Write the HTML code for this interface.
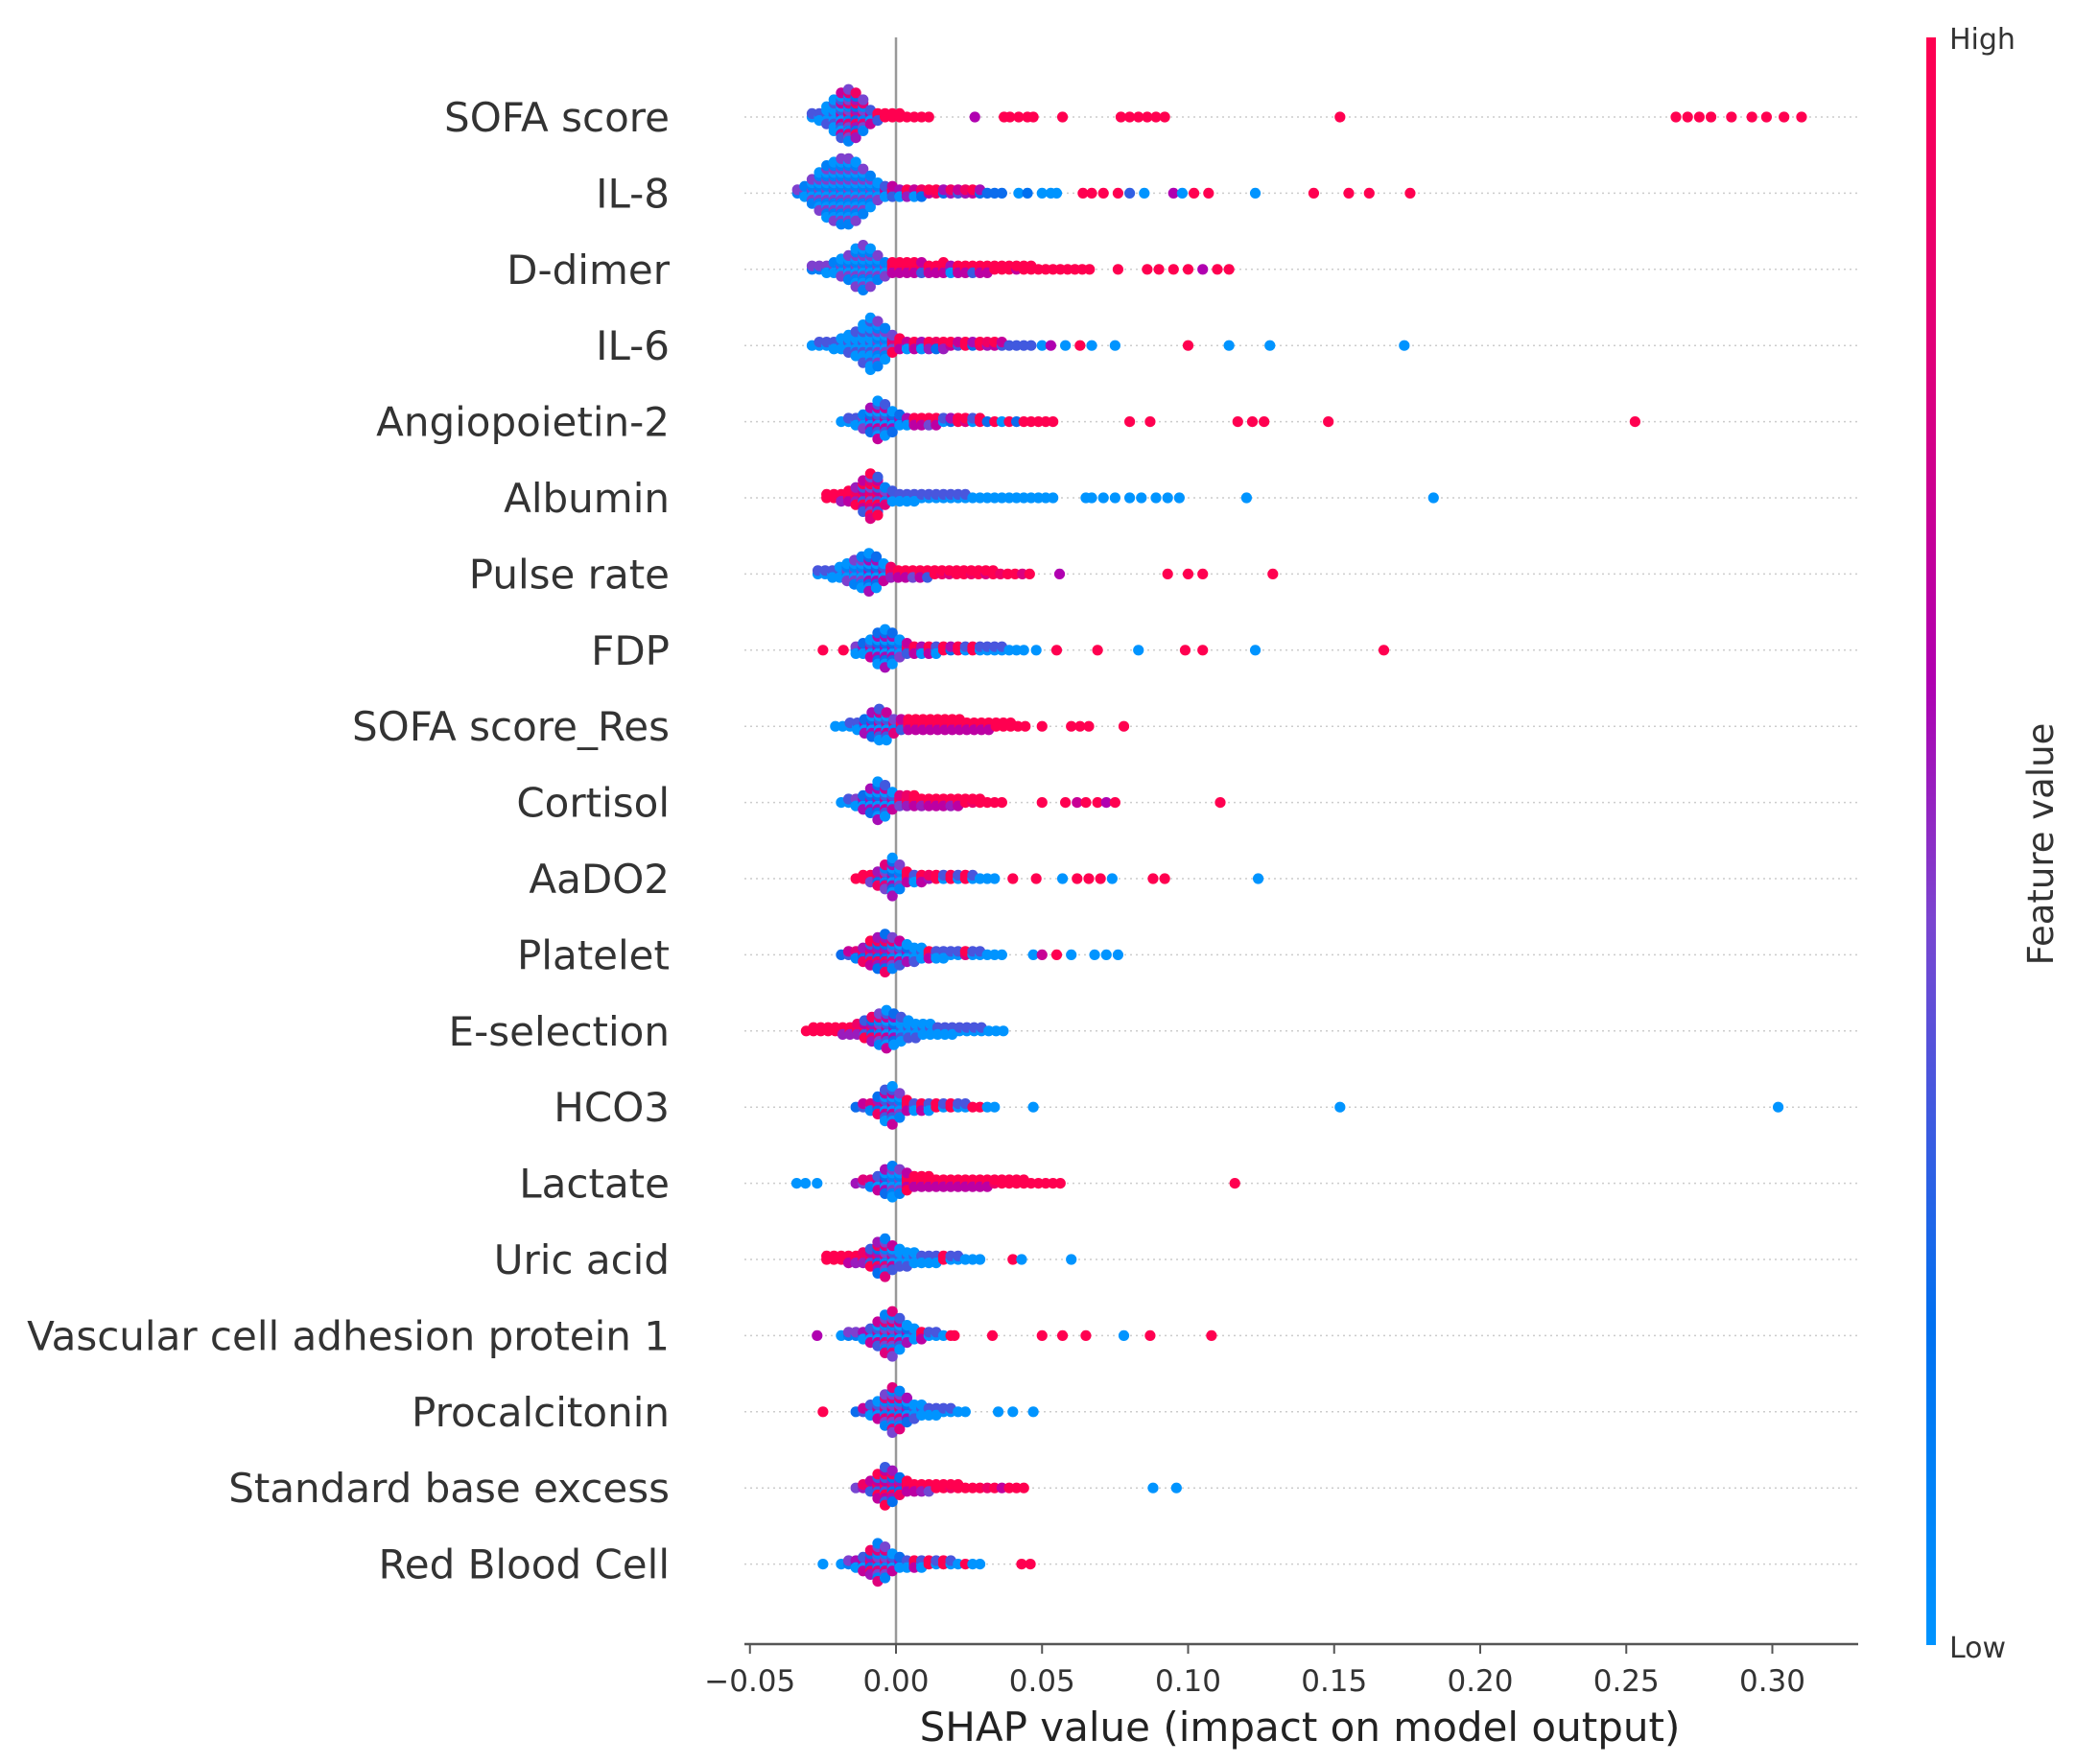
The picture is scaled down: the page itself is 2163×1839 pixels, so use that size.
<!DOCTYPE html>
<html><head><meta charset="utf-8"><style>
html,body{margin:0;padding:0;background:#fff;}
svg{display:block;font-family:"DejaVu Sans","Liberation Sans",sans-serif;}
</style></head><body>
<svg id="chart" width="2163" height="1839" viewBox="0 0 2163 1839" xmlns="http://www.w3.org/2000/svg">
<defs><linearGradient id="cbar" x1="0" y1="1" x2="0" y2="0">
<stop offset="0" stop-color="#0094ff"/><stop offset="0.2" stop-color="#0070f0"/><stop offset="0.45" stop-color="#7a45d0"/><stop offset="0.6" stop-color="#b000b0"/><stop offset="0.8" stop-color="#e0007a"/><stop offset="1" stop-color="#ff0050"/></linearGradient></defs>
<g id="grid"></g>
<line x1="934" y1="39" x2="934" y2="1714" stroke="#999" stroke-width="2.5"/>
<g id="dots"></g>
<g id="labels"></g>
<line x1="776" y1="1714" x2="1937" y2="1714" stroke="#555" stroke-width="2.5"/>
<g id="ticks"></g>
<text x="1355" y="1815" font-size="42" fill="#222" text-anchor="middle">SHAP value (impact on model output)</text>
<rect x="2008" y="39" width="10" height="1676" fill="url(#cbar)"/>
<text x="2032" y="51" font-size="30" fill="#333">High</text>
<text x="2032" y="1728" font-size="30" fill="#333">Low</text>
<text transform="translate(2140,880) rotate(-90)" font-size="37" fill="#333" text-anchor="middle">Feature value</text>
</svg>
<script>
const features=["SOFA score","IL-8","D-dimer","IL-6","Angiopoietin-2","Albumin","Pulse rate","FDP","SOFA score_Res","Cortisol","AaDO2","Platelet","E-selection","HCO3","Lactate","Uric acid","Vascular cell adhesion protein 1","Procalcitonin","Standard base excess","Red Blood Cell"];
const binStart=[-0.03,-0.035,-0.03,-0.03,-0.02,-0.025,-0.028,-0.015,-0.022,-0.02,-0.015,-0.02,-0.032,-0.015,-0.015,-0.025,-0.02,-0.015,-0.015,-0.02];
const binCounts=[
[2,3,6,10,14,16,14,10,5,3,2,2,2,1,1,1,1],
[2,4,8,12,16,18,20,20,18,14,10,6,4,4,3,3,3,3,2,2,2,2,2,2,2,2,1,1,1],
[2,2,3,4,6,8,12,14,12,8,5,4,4,4,4,4,3,3,4,3,3,3,3,3,3,2,2,2,2,2,2,1,1,1,1,1,1,1,1],
[1,2,2,3,4,6,8,12,16,14,10,6,4,3,3,3,3,3,3,2,2,2,2,2,2,2,2,1,1,1,1],
[1,2,3,5,8,12,10,7,4,3,3,3,3,3,2,2,2,2,2,2,1,1,1,1,1,1,1,1,1,1],
[2,2,3,4,6,10,14,12,6,4,3,3,3,2,2,2,2,2,2,2,1,1,1,1,1,1,1,1,1,1,1,1],
[2,2,3,4,6,8,10,12,10,6,4,3,3,3,3,3,2,2,2,2,2,2,2,2,2,1,1,1,1,1],
[3,4,6,10,12,10,6,4,3,3,3,3,2,2,2,2,2,2,2,2,2,1,1,1],
[1,1,2,3,5,8,10,9,5,4,4,4,4,4,4,4,4,4,3,3,3,3,2,2,2,1,1],
[1,2,3,5,8,12,10,6,4,4,4,3,3,3,3,3,3,2,2,2,1,1,1],
[1,2,3,5,8,12,8,4,3,3,2,2,2,2,2,2,2,1,1,1],
[1,2,3,5,8,10,12,10,8,6,5,4,3,3,3,2,2,2,2,2,1,1,1],
[1,2,2,2,2,3,3,4,6,8,10,12,10,8,6,5,4,4,3,3,3,2,2,2,2,1,1,1],
[1,2,3,6,10,12,8,4,3,3,3,2,2,2,2,2,1,1,1,1],
[1,2,3,5,8,10,8,6,4,4,4,3,3,3,3,3,3,3,3,2,2,2,2,2,1,1,1,1,1],
[2,2,2,3,3,4,6,10,12,8,6,5,4,3,3,3,2,2,2,1,1,1],
[1,2,2,3,5,8,12,14,10,6,4,3,2,2,1,1],
[1,2,4,6,10,14,12,8,5,4,3,3,2,2,1,1],
[1,2,4,8,12,10,6,4,3,3,3,2,2,2,2,1,1,1,1,1,1,1,1,1],
[1,2,3,5,8,12,10,6,4,3,3,3,2,2,2,2,1,1,1,1]];
const binColors=["00003454369999999","11111111111136283568253562","111111111119999699929969999969999999999","000000000117939285863928563","00012332229979029709290929","99898676430000000000000000000000","000011122389979698799897989979","123222169290929090","00002233469999999999999999999","00122233789899989989","99754219095909090","23456554320090000700","999998886543200000000000","23453319090909009900","54432119999999999998999999999","999988654300000090000","0112334432090009","2333444200000000","456665599879989999896999","01235443209090900900"];
const outliers=[
[[0.027,0.6],[0.037,1],[0.039,1],[0.042,1],[0.045,1],[0.047,1],[0.057,1],[0.077,1],[0.08,1],[0.083,1],[0.086,1],[0.089,1],[0.092,1],[0.152,1],[0.267,1],[0.271,1],[0.275,1],[0.279,1],[0.286,1],[0.293,1],[0.298,1],[0.304,1],[0.31,1]],
[[0.042,0],[0.045,0.2],[0.05,0],[0.053,0],[0.055,0],[0.064,1],[0.067,1],[0.071,1],[0.076,1],[0.08,0.3],[0.085,0],[0.095,0.6],[0.098,0],[0.102,1],[0.107,1],[0.123,0],[0.143,1],[0.155,1],[0.162,1],[0.176,1]],
[[0.076,1],[0.086,1],[0.09,1],[0.095,1],[0.1,1],[0.105,0.6],[0.11,1],[0.114,1]],
[[0.05,0],[0.053,0.6],[0.058,0],[0.063,1],[0.067,0],[0.075,0],[0.1,1],[0.114,0],[0.128,0],[0.174,0]],
[[0.08,1],[0.087,1],[0.117,1],[0.122,1],[0.126,1],[0.148,1],[0.253,1]],
[[0.065,0],[0.067,0],[0.071,0],[0.075,0],[0.08,0],[0.084,0],[0.089,0],[0.093,0],[0.097,0],[0.12,0],[0.184,0]],
[[0.056,0.6],[0.093,1],[0.1,1],[0.105,1],[0.129,1]],
[[-0.025,1],[-0.018,1],[0.048,0],[0.055,1],[0.069,1],[0.083,0],[0.099,1],[0.105,1],[0.123,0],[0.167,1]],
[[0.05,1],[0.06,1],[0.063,1],[0.066,1],[0.078,1]],
[[0.05,1],[0.058,1],[0.062,0.7],[0.065,1],[0.069,1],[0.072,0.6],[0.075,1],[0.111,1]],
[[0.04,1],[0.048,1],[0.057,0],[0.062,1],[0.066,1],[0.07,1],[0.074,0],[0.088,1],[0.092,1],[0.124,0]],
[[0.047,0],[0.05,0.7],[0.055,1],[0.06,0],[0.068,0],[0.072,0],[0.076,0]],
[],
[[0.047,0],[0.152,0],[0.302,0]],
[[-0.034,0],[-0.031,0],[-0.027,0],[0.116,1]],
[[0.04,1],[0.043,0],[0.06,0]],
[[-0.027,0.6],[0.02,1],[0.033,1],[0.05,1],[0.057,1],[0.065,1],[0.078,0],[0.087,1],[0.108,1]],
[[-0.025,1],[0.035,0],[0.04,0],[0.047,0]],
[[0.088,0],[0.096,0]],
[[-0.025,0],[0.043,1],[0.046,1]]];
const tickValues=[-0.05,0,0.05,0.1,0.15,0.2,0.25,0.3];
const tickLabels=["\u22120.05","0.00","0.05","0.10","0.15","0.20","0.25","0.30"];

const NS="http://www.w3.org/2000/svg";
const x=v=>934+v*3045;
const y=i=>122+i*79.4;
const BW=0.0025, STEP=3.6, R=5.6;
function color(c){
  c=Math.max(0,Math.min(1,c));
  const st=[[0,[0,148,255]],[0.2,[0,112,240]],[0.45,[122,69,208]],[0.6,[176,0,176]],[0.8,[224,0,122]],[1,[255,0,80]]];
  for(let k=1;k<st.length;k++){if(c<=st[k][0]){const a=st[k-1],b=st[k];const t=(c-a[0])/(b[0]-a[0]);
    return "rgb("+a[1].map((q,j)=>Math.round(q+(b[1][j]-q)*t)).join(",")+")";}}
  return "rgb(255,0,80)";
}
const gG=document.getElementById("grid"),gD=document.getElementById("dots"),gL=document.getElementById("labels"),gT=document.getElementById("ticks");
features.forEach((f,i)=>{
  const yy=y(i);
  const ln=document.createElementNS(NS,"line");
  ln.setAttribute("x1",776);ln.setAttribute("x2",1937);ln.setAttribute("y1",yy);ln.setAttribute("y2",yy);
  ln.setAttribute("stroke","#ccc");ln.setAttribute("stroke-width","1.5");ln.setAttribute("stroke-dasharray","2,4");
  
  
  gG.appendChild(ln);
  const t=document.createElementNS(NS,"text");
  t.setAttribute("x",698);t.setAttribute("y",yy+15);t.setAttribute("text-anchor","end");
  t.setAttribute("font-size","42");t.setAttribute("fill","#333");t.textContent=f;
  
  
  gL.appendChild(t);
  const counts=binCounts[i],cs=binColors[i];
  counts.forEach((n,b)=>{
    const cx=x(binStart[i]+(b+0.5)*BW);
    const bc=parseInt(cs[Math.min(b,cs.length-1)])/9;
    for(let k=0;k<n;k++){
      const off=Math.ceil(k/2)*(k%2?-1:1)*STEP;
      const c=bc+[0,0.35,-0.35][k%3];
      const d=document.createElementNS(NS,"circle");
      d.setAttribute("cx",cx);d.setAttribute("cy",yy+off);d.setAttribute("r",R);d.setAttribute("fill",color(c));
      
      
      gD.appendChild(d);
    }
  });
  outliers[i].forEach(p=>{
    const d=document.createElementNS(NS,"circle");
    d.setAttribute("cx",x(p[0]));d.setAttribute("cy",yy);d.setAttribute("r",R);d.setAttribute("fill",color(p[1]));
    
    
    gD.appendChild(d);
  });
});
tickValues.forEach((v,k)=>{
  const l=document.createElementNS(NS,"line");
  l.setAttribute("x1",x(v));l.setAttribute("x2",x(v));l.setAttribute("y1",1714);l.setAttribute("y2",1724);
  l.setAttribute("stroke","#555");l.setAttribute("stroke-width","2");
  
  
  gT.appendChild(l);
  const t=document.createElementNS(NS,"text");
  t.setAttribute("x",x(v));t.setAttribute("y",1763);t.setAttribute("text-anchor","middle");
  t.setAttribute("font-size","31");t.setAttribute("fill","#333");t.textContent=tickLabels[k];
  
  
  gT.appendChild(t);
});
</script>
</body></html>
